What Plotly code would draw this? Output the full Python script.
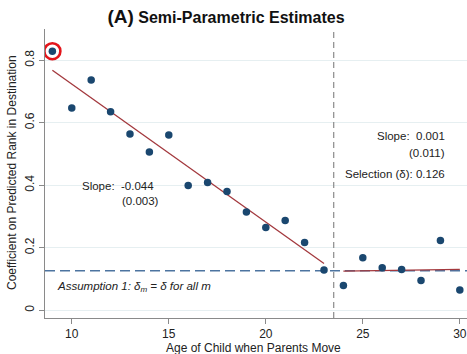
import numpy as np
import plotly.graph_objects as go

# ---- data ----
ages = [9, 10, 11, 12, 13, 14, 15, 16, 17, 18, 19, 20, 21, 22, 23, 24, 25, 26, 27, 28, 29, 30]
coefs = [0.829, 0.647, 0.737, 0.635, 0.564, 0.506, 0.561, 0.399, 0.409, 0.380, 0.314,
         0.265, 0.287, 0.217, 0.129, 0.079, 0.168, 0.136, 0.130, 0.095, 0.223, 0.065]
cutoff_age = 23.5
selection_delta = 0.126
x_ticks = [10, 15, 20, 25, 30]
y_ticks = [0, 0.2, 0.4, 0.6, 0.8]
y_tick_labels = ["0", "0.2", "0.4", "0.6", "0.8"]
highlight_age = 9

ages_a = np.array(ages, dtype=float)
coefs_a = np.array(coefs, dtype=float)
left = ages_a < cutoff_age
right = ~left
s1, b1 = np.polyfit(ages_a[left], coefs_a[left], 1)
s2, b2 = np.polyfit(ages_a[right], coefs_a[right], 1)
xl = np.array([ages_a[left].min(), ages_a[left].max()])
xr = np.array([ages_a[right].min(), ages_a[right].max()])

FONT = "Liberation Sans, Arial, sans-serif"
NAVY = "#1a476f"
MAROON = "#a3383d"

fig = go.Figure()
fig.add_trace(go.Scatter(x=xl, y=s1 * xl + b1, mode="lines",
                         line=dict(color=MAROON, width=1.3), hoverinfo="skip"))
fig.add_trace(go.Scatter(x=xr, y=s2 * xr + b2, mode="lines",
                         line=dict(color=MAROON, width=1.3), hoverinfo="skip"))
fig.add_trace(go.Scatter(x=ages, y=coefs, mode="markers", cliponaxis=False,
                         marker=dict(color=NAVY, size=7.5)))

# horizontal dashed selection line
fig.add_shape(type="line", xref="paper", yref="y", x0=0, x1=1,
              y0=selection_delta, y1=selection_delta,
              line=dict(color="#4d74a0", width=1.5, dash="10px,5px"), layer="below")
# vertical dashed cutoff line
fig.add_shape(type="line", xref="x", yref="paper", x0=cutoff_age, x1=cutoff_age,
              y0=0, y1=1, line=dict(color="#8a8a8a", width=1.2, dash="6px,4px"))
# red circle around highlighted point
hi_y = coefs[ages.index(highlight_age)]
fig.add_shape(type="circle", xref="x", yref="y", xsizemode="pixel", ysizemode="pixel",
              xanchor=highlight_age, yanchor=hi_y, x0=-8, x1=8, y0=-8, y1=8,
              line=dict(color="#e3151b", width=2.6))

ann_font = dict(family=FONT, size=11.5, color="#222")
fig.add_annotation(x=10.42, y=0.399, text="Slope:  -0.044", showarrow=False,
                   xanchor="left", yanchor="middle", font=ann_font)
fig.add_annotation(x=12.49, y=0.351, text="(0.003)", showarrow=False,
                   xanchor="left", yanchor="middle", font=ann_font)
fig.add_annotation(x=29.34, y=0.558, text="Slope:  0.001", showarrow=False,
                   xanchor="right", yanchor="middle", font=ann_font)
fig.add_annotation(x=29.34, y=0.504, text="(0.011)", showarrow=False,
                   xanchor="right", yanchor="middle", font=ann_font)
fig.add_annotation(x=29.34, y=0.437, text="Selection (δ): 0.126", showarrow=False,
                   xanchor="right", yanchor="middle", font=ann_font)
fig.add_annotation(x=9.14, y=0.073,
                   text="<i>Assumption 1: δ<sub>m</sub> = δ for all m</i>",
                   showarrow=False, xanchor="left", yanchor="middle", font=ann_font)

# axis titles
title_font = dict(family=FONT, size=12, color="#222")
fig.add_annotation(xref="paper", yref="paper", x=0.495, y=-0.104,
                   text="Age of Child when Parents Move", showarrow=False,
                   xanchor="center", yanchor="middle", font=title_font)
fig.add_annotation(xref="paper", yref="paper", x=-0.078, y=0.502, textangle=-90,
                   text="Coefficient on Predicted Rank in Destination", showarrow=False,
                   xanchor="center", yanchor="middle", font=title_font)

fig.update_layout(
    width=467, height=354,
    margin=dict(l=45, r=0, t=29, b=36, autoexpand=False),
    paper_bgcolor="white", plot_bgcolor="white",
    showlegend=False,
    font=dict(family=FONT, size=12, color="#222"),
    title=dict(text="<b><span style='font-size:19px'>(A)</span> Semi-Parametric Estimates</b>",
               x=226 / 467, xanchor="center", xref="container",
               y=1 - 17 / 354, yanchor="middle", yref="container",
               font=dict(family=FONT, size=16, color="#111")),
    xaxis=dict(range=[8.62, 30.37], tickvals=x_ticks, showgrid=False, zeroline=False,
               showline=True, linecolor="#8a8a8a", linewidth=1, automargin=False,
               ticks="outside", ticklen=5, tickcolor="#8a8a8a",
               tickfont=dict(size=12, color="#222")),
    yaxis=dict(range=[-0.025, 0.9], tickvals=y_ticks, ticktext=y_tick_labels, tickangle=-90,
               showgrid=True, gridcolor="#e6eff1", gridwidth=1, zeroline=False,
               showline=True, linecolor="#8a8a8a", linewidth=1, automargin=False,
               ticks="outside", ticklen=5, tickcolor="#8a8a8a",
               tickfont=dict(size=12, color="#222")),
)

fig.write_html("out.html", config={"displayModeBar": False},
               post_script="document.body.style.margin='0';document.body.style.overflow='hidden';")
